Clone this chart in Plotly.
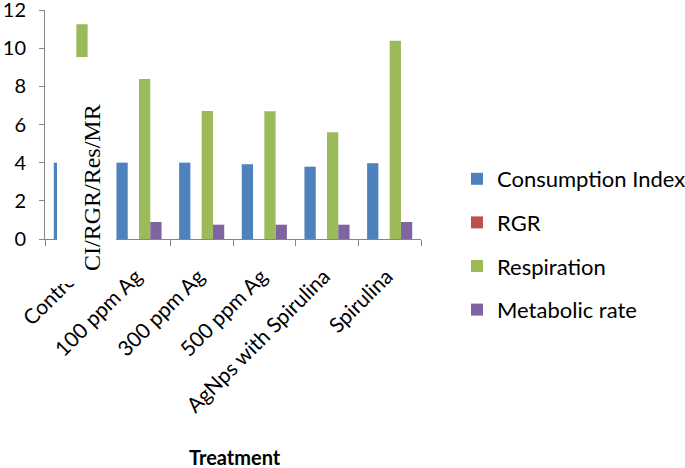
import plotly.graph_objects as go

categories = ["Control", "100 ppm Ag", "300 ppm Ag", "500 ppm Ag", "AgNps with Spirulina", "Spirulina"]
consumption_index = [4.0, 4.0, 4.0, 3.92, 3.79, 3.97]
rgr = [0.0, 0.0, 0.0, 0.0, 0.0, 0.0]
respiration = [11.25, 8.39, 6.71, 6.69, 5.59, 10.39]
metabolic_rate = [0.85, 0.89, 0.75, 0.75, 0.75, 0.89]

series = [
    ("Consumption Index", consumption_index, "#4F81BD"),
    ("RGR", rgr, "#C0504D"),
    ("Respiration", respiration, "#9BBB59"),
    ("Metabolic rate", metabolic_rate, "#8064A2"),
]

fig = go.Figure()
for name, vals, col in series:
    fig.add_trace(go.Bar(x=categories, y=vals, name=name, marker_color=col,
                         marker_line_width=0, legendgroup=name))

W, H = 685, 468
L, T = 45, 10
B = H - 239
R = W - 421
pw = W - L - R
ph = H - T - B

def px_x(p):
    return (p - L) / pw

def px_y(p):
    return (H - B - p) / ph

fig.update_layout(
    width=W, height=H,
    margin=dict(l=L, r=R, t=T, b=B, autoexpand=False),
    paper_bgcolor="white", plot_bgcolor="white",
    barmode="group", bargap=0.28, bargroupgap=0,
    font=dict(family="Lato", color="#000000"),
    showlegend=True,
    legend=dict(xref="container", yref="container", x=457 / W, y=1 - 158 / H,
                xanchor="left", yanchor="top", font=dict(size=22, family="Lato"),
                traceorder="grouped", tracegroupgap=12, bgcolor="rgba(0,0,0,0)"),
    xaxis=dict(showline=True, linecolor="#868686", linewidth=1, ticks="outside",
               tickson="boundaries", ticklen=6, tickcolor="#868686", tickangle=-45,
               tickfont=dict(size=21, family="Lato"), showgrid=False,
               ticklabelstandoff=16, ticklabelshift=-3, ticklabeloverflow="allow"),
    yaxis=dict(range=[0, 12.0001], dtick=2, showline=True, linecolor="#868686", linewidth=1,
               ticks="outside", ticklen=5, tickcolor="#868686", showgrid=False,
               tickfont=dict(size=20, family="Lato"), ticklabelstandoff=9,
               ticklabeloverflow="allow", zeroline=False),
)

# white box behind the y-axis title (covers part of the plot like in the source)
fig.add_shape(type="rect", xref="paper", yref="paper",
              x0=px_x(57), x1=px_x(116), y0=px_y(284), y1=px_y(57),
              fillcolor="white", line_width=0, layer="above")

fig.add_annotation(text="CI/RGR/Res/MR", xref="paper", yref="paper",
                   x=px_x(91.5), y=px_y(187.5), xanchor="center", yanchor="middle",
                   textangle=-90, showarrow=False,
                   font=dict(family="Liberation Serif", size=24, color="#000000"))

fig.add_annotation(text="<b>Treatment</b>", xref="paper", yref="paper",
                   x=px_x(235), y=px_y(457), xanchor="center", yanchor="middle",
                   showarrow=False, font=dict(family="Lato", size=20, color="#000000"))

fig.write_html("out.html", config={"displayModeBar": False},
               post_script="document.body.style.margin='0';")
